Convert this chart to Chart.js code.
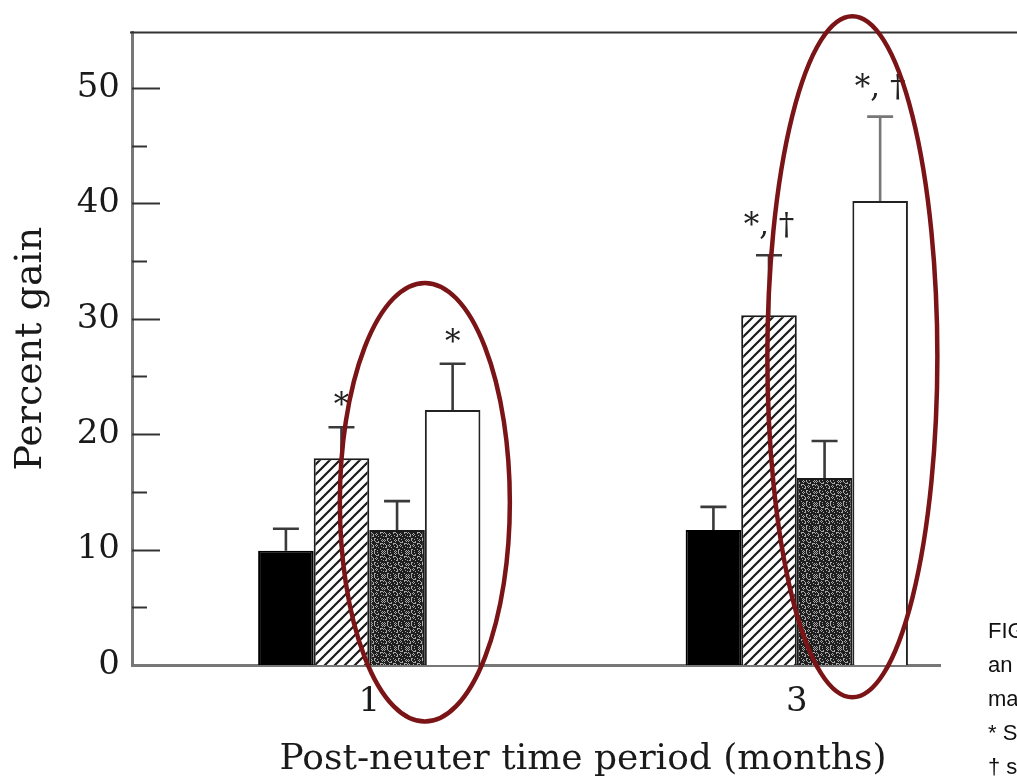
<!DOCTYPE html>
<html>
<head>
<meta charset="utf-8">
<script src="https://cdn.jsdelivr.net/npm/chart.js@4.4.1/dist/chart.umd.min.js"></script>
<style>
  html, body { margin: 0; padding: 0; background: #fff; }
  #wrap { width: 1017px; height: 782px; }
</style>
</head>
<body>
<div id="wrap"><canvas id="chart" width="1017" height="782"></canvas></div>
<script>
// x positions (months) and y ticks
const months = [1, 3];
const yTicks = [0, 10, 20, 30, 40, 50];
const yMinorTicks = [5, 15, 25, 35, 45];

// mean percent gain per bar style
const solidVals = [9.9, 11.7];
const hatchedVals = [17.9, 30.3];
const stippledVals = [11.7, 16.2];
const openVals = [22.1, 40.2];

// upper error bar (+SE)
const solidErr = [1.9, 2.0];
const hatchedErr = [2.7, 5.2];
const stippledErr = [2.5, 3.2];
const openErr = [4.0, 7.3];

// significance marks
const solidSig = ['', ''];
const hatchedSig = ['*', '*, †'];
const stippledSig = ['', ''];
const openSig = ['*', '*, †'];

// red rings drawn over the figure: month index and value span
const ringMonth = [0, 1];
const ringLow = [-4.9, -2.8];
const ringHigh = [33.1, 56.2];

// caption fragments cut off at the right edge
const captionBits = ['FIG', 'an', 'ma', '* S', '† s'];

const serif = "'DejaVu Serif', serif";

function hatchPattern() {
  const c = document.createElement('canvas');
  c.width = 10; c.height = 10;
  const g = c.getContext('2d');
  g.fillStyle = '#fff';
  g.fillRect(0, 0, 10, 10);
  g.strokeStyle = '#1a1a1a';
  g.lineWidth = 2.2;
  g.beginPath();
  g.moveTo(-1, 11); g.lineTo(11, -1);
  g.moveTo(-1, 1); g.lineTo(1, -1);
  g.moveTo(9, 11); g.lineTo(11, 9);
  g.stroke();
  return g.createPattern(c, 'repeat');
}

function stipplePattern() {
  const c = document.createElement('canvas');
  c.width = 24; c.height = 24;
  const g = c.getContext('2d');
  g.fillStyle = '#1e1e1e';
  g.fillRect(0, 0, 24, 24);
  g.fillStyle = '#a8a8a8';
  for (let i = 0; i < 24; i++) {
    for (let j = 0; j < 24; j++) {
      if (((i * 37 + j * 61 + i * j * 13) % 11) < 3) g.fillRect(i, j, 1, 1);
    }
  }
  return g.createPattern(c, 'repeat');
}

function makeSet(label, vals, fill, border) {
  return {
    label: label,
    data: months.map((m, i) => ({ x: m, y: vals[i] })),
    backgroundColor: fill,
    borderColor: border,
    borderWidth: 2,
    borderSkipped: 'start'
  };
}

const allVals = [solidVals, hatchedVals, stippledVals, openVals];
const allErr = [solidErr, hatchedErr, stippledErr, openErr];
const allSig = [solidSig, hatchedSig, stippledSig, openSig];

const extras = {
  id: 'extras',
  afterDatasetsDraw(chart) {
    const ctx = chart.ctx;
    const y = chart.scales.y;
    const area = chart.chartArea;
    ctx.save();

    // error bars (upper only) and significance marks
    allErr.forEach((errs, d) => {
      const meta = chart.getDatasetMeta(d);
      meta.data.forEach((bar, i) => {
        const base = y.getPixelForValue(allVals[d][i]);
        const top = y.getPixelForValue(allVals[d][i] + errs[i]);
        ctx.strokeStyle = d === 3 && i === 1 ? '#777' : '#3a3a3a';
        ctx.lineWidth = 2.6;
        ctx.beginPath();
        ctx.moveTo(bar.x, base);
        ctx.lineTo(bar.x, top);
        ctx.moveTo(bar.x - 13, top);
        ctx.lineTo(bar.x + 13, top);
        ctx.stroke();

        const sig = allSig[d][i];
        if (sig) {
          ctx.fillStyle = '#222';
          ctx.font = '31px ' + serif;
          ctx.textAlign = 'center';
          ctx.textBaseline = 'alphabetic';
          ctx.fillText(sig, bar.x, top - (sig.length > 1 ? 20 : 12));
        }
      });
    });

    // y ticks pointing into the plot
    ctx.strokeStyle = '#333';
    ctx.lineWidth = 2;
    yTicks.forEach(v => {
      const py = Math.round(y.getPixelForValue(v)) + 0.5;
      if (v === 0) return;
      ctx.beginPath();
      ctx.moveTo(area.left, py);
      ctx.lineTo(area.left + 28, py);
      ctx.stroke();
    });
    yMinorTicks.forEach(v => {
      const py = Math.round(y.getPixelForValue(v)) + 0.5;
      ctx.beginPath();
      ctx.moveTo(area.left, py);
      ctx.lineTo(area.left + 15, py);
      ctx.stroke();
    });
    ctx.restore();
  },
  afterDraw(chart) {
    const ctx = chart.ctx;
    const x = chart.scales.x;
    const y = chart.scales.y;
    const area = chart.chartArea;
    ctx.save();

    // top frame line runs off the page
    ctx.strokeStyle = '#333';
    ctx.lineWidth = 2;
    ctx.beginPath();
    ctx.moveTo(area.left - 2, area.top);
    ctx.lineTo(chart.width, area.top);
    ctx.stroke();

    // x axis title, centred between the two periods
    const midX = (x.getPixelForValue(months[0]) + x.getPixelForValue(months[months.length - 1])) / 2;
    ctx.fillStyle = '#1a1a1a';
    ctx.font = '36px ' + serif;
    ctx.textAlign = 'center';
    ctx.textBaseline = 'middle';
    ctx.fillText('Post-neuter time period (months)', midX, area.bottom + 95);

    // red rings around the highlighted bars
    const openMeta = chart.getDatasetMeta(3);
    ctx.strokeStyle = '#7b1416';
    ctx.lineWidth = 4.5;
    ringMonth.forEach((m, k) => {
      const bar = openMeta.data[m];
      const cx = bar.x - bar.width / 2;
      const yTop = y.getPixelForValue(ringHigh[k]);
      const yBot = y.getPixelForValue(ringLow[k]);
      ctx.beginPath();
      ctx.ellipse(cx, (yTop + yBot) / 2, 85, (yBot - yTop) / 2, 0, 0, Math.PI * 2);
      ctx.stroke();
    });

    // caption fragments
    ctx.fillStyle = '#111';
    ctx.font = "22px 'Liberation Sans', Arial, sans-serif";
    ctx.textAlign = 'left';
    ctx.textBaseline = 'alphabetic';
    captionBits.forEach((t, i) => {
      ctx.fillText(t, 988, 638 + i * 34);
    });
    ctx.restore();
  }
};

new Chart(document.getElementById('chart'), {
  type: 'bar',
  data: {
    datasets: [
      makeSet('Solid', solidVals, '#000', '#000'),
      makeSet('Hatched', hatchedVals, hatchPattern(), '#1a1a1a'),
      makeSet('Stippled', stippledVals, stipplePattern(), '#1a1a1a'),
      makeSet('Open', openVals, '#fff', '#222')
    ]
  },
  options: {
    responsive: false,
    animation: false,
    layout: { padding: { top: 30, right: 77, left: 0, bottom: 0 } },
    plugins: {
      legend: { display: false },
      tooltip: { enabled: false }
    },
    datasets: {
      bar: { categoryPercentage: 0.52, barPercentage: 1.0 }
    },
    scales: {
      x: {
        type: 'linear',
        min: -0.11,
        max: 3.67,
        offset: false,
        afterBuildTicks: s => { s.ticks = months.map(v => ({ value: v })); },
        afterFit: s => { s.height = 117; },
        grid: { display: false, drawTicks: false },
        border: { display: true, color: '#777', width: 3 },
        ticks: {
          color: '#1a1a1a',
          font: { family: serif, size: 34 },
          padding: 17,
          maxRotation: 0,
          autoSkip: false,
          callback: v => String(v)
        }
      },
      y: {
        min: 0,
        max: 54.8,
        afterBuildTicks: s => { s.ticks = yTicks.map(v => ({ value: v })); },
        afterFit: s => { s.width = 132; },
        grid: { display: false, drawTicks: false },
        border: { display: true, color: '#777', width: 3 },
        ticks: {
          color: '#1a1a1a',
          font: { family: serif, size: 34 },
          padding: 12
        },
        title: {
          display: true,
          text: 'Percent gain',
          color: '#1a1a1a',
          font: { family: serif, size: 38 },
          padding: { top: 8, bottom: 0 }
        }
      }
    }
  },
  plugins: [extras]
});
</script>
</body>
</html>
